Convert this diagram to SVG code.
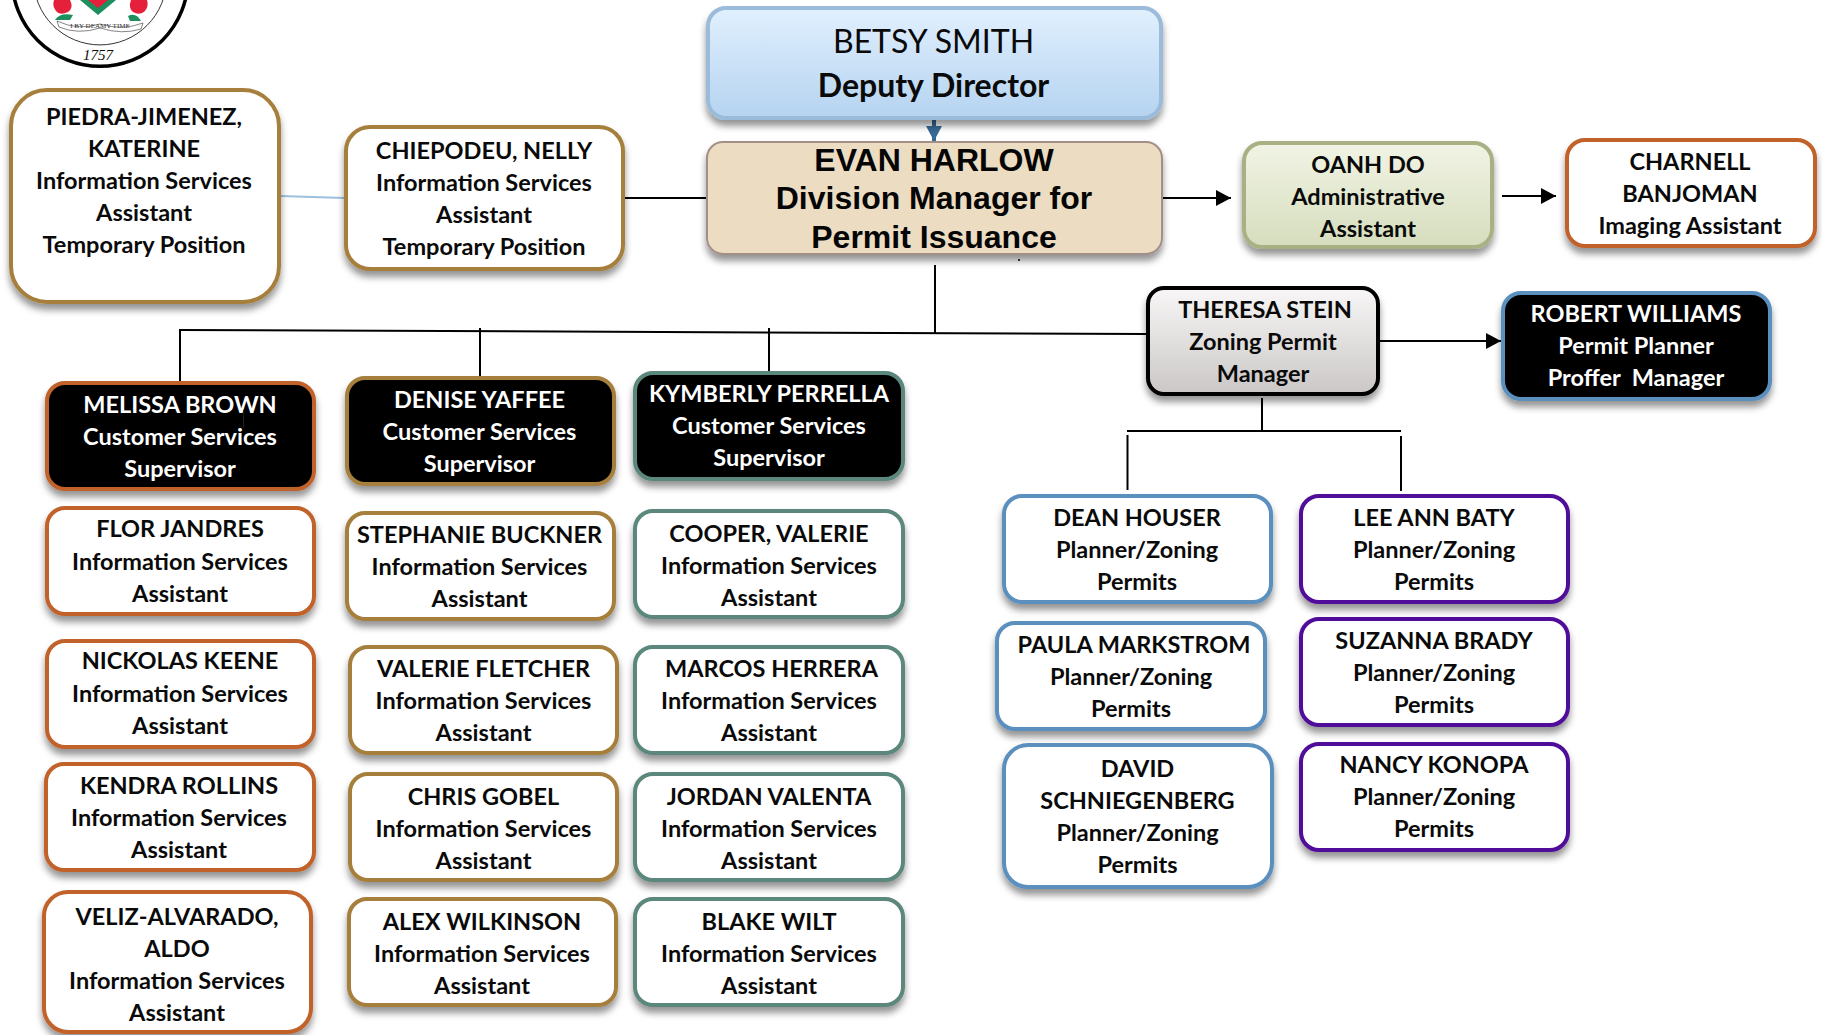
<svg xmlns="http://www.w3.org/2000/svg" width="1822" height="1035" viewBox="0 0 1822 1035">
<style>
text{font-family:Lato,"Liberation Sans",sans-serif;font-weight:700;font-size:23.5px;text-anchor:middle;fill:#0a0a0a}
text.w{fill:#fff}
.evan{font-family:"Liberation Sans",Arial,sans-serif;font-size:32px;fill:#050505}
.betsy{font-size:32px;font-weight:400}
.dep{font-size:32px}
.yr{font-family:"Liberation Serif",serif;font-style:italic;font-size:15px;font-weight:400}
.ban{font-family:"Liberation Serif",serif;font-size:7px;font-weight:400;fill:#333}
rect{stroke-width:4}
.box{filter:url(#sh);fill:#fff}
.or{stroke:#c0622b}.go{stroke:#a67f3d}.te{stroke:#5c877d}.bl{stroke:#5a8fbe}.pu{stroke:#4f0f99}
.k{fill:#050505}
.ln{stroke:#000;stroke-width:2;fill:none}
</style>
<defs>
<filter id="sh" x="-10%" y="-10%" width="120%" height="130%"><feDropShadow dx="0" dy="6" stdDeviation="3.5" flood-color="#000" flood-opacity=".42"/></filter>
<linearGradient id="gb" x1="0" y1="0" x2="0" y2="1"><stop offset="0" stop-color="#e1f0fe"/><stop offset="1" stop-color="#b5d3f0"/></linearGradient>
<linearGradient id="gg" x1="0" y1="0" x2="0" y2="1"><stop offset="0" stop-color="#f1f4e5"/><stop offset="1" stop-color="#d6ddbd"/></linearGradient>
<linearGradient id="gs" x1="0" y1="0" x2="0" y2="1"><stop offset="0" stop-color="#f8f6f6"/><stop offset="1" stop-color="#cbc7c7"/></linearGradient>
<marker id="a" markerUnits="userSpaceOnUse" markerWidth="16" markerHeight="16" refX="15" refY="8" orient="auto"><path d="M0 0L15 8L0 16Z" fill="#000"/></marker>
<marker id="ab" markerUnits="userSpaceOnUse" markerWidth="16" markerHeight="16" refX="15" refY="8" orient="auto"><path d="M0 0L15 8L0 16Z" fill="#376a94"/></marker>
</defs>

<g id="seal">
<circle cx="100" cy="-21.7" r="88" fill="#fff" stroke="#000" stroke-width="3.5"/>
<circle cx="100" cy="-21.7" r="66.6" fill="none" stroke="#333" stroke-width="1"/>
<path d="M54 0H70Q74 8 68 12Q60 16 56 11Q52 6 54 0Z" fill="#e5203a"/>
<path d="M131 0H147Q149 6 145 11Q140 16 133 12Q128 8 131 0Z" fill="#e5203a"/>
<path d="M80 0H116L98 15Z" fill="#1f8f5f"/>
<path d="M88 0H108L98 8Z" fill="#e5203a"/>
<path d="M55 20Q60 12 73 15L70 20Z" fill="#1f8f5f"/>
<path d="M128 16Q136 12 141 21L130 21Z" fill="#1f8f5f"/>
<path d="M57 21Q78 31 100 24Q122 31 143 23L141 29Q122 35 100 28Q78 35 59 27Z" fill="#fff" stroke="#666" stroke-width=".8"/>
<text class="ban" x="100" y="28">I BY DEAMY TIME</text>
<text class="yr" x="98" y="60">1757</text>
</g>

<g id="connectors">
<path d="M280 196L345 198" fill="none" stroke="#9cc0de" stroke-width="2"/>
<path class="ln" d="M622 198H707"/>
<path d="M934 119V141" stroke="#376a94" stroke-width="4" fill="none" marker-end="url(#ab)"/>
<path class="ln" d="M1162 198H1231" marker-end="url(#a)"/>
<path class="ln" d="M1502 196H1556" marker-end="url(#a)"/>
<path class="ln" d="M935 265V333"/>
<path class="ln" d="M180 330L1146 334"/>
<path class="ln" d="M180 329V382"/>
<path class="ln" d="M480 328V378"/>
<path class="ln" d="M769 328V372"/>
<path class="ln" d="M1380 341H1501" marker-end="url(#a)"/>
<path class="ln" d="M1262 398V431"/>
<path class="ln" d="M1127 431H1401"/>
<path class="ln" d="M1127.5 435V490"/>
<path class="ln" d="M1401 436V491"/>
</g>

<g id="n-betsy"><rect class="box" x="708" y="8" width="453" height="110" rx="18" fill="url(#gb)" style="fill:url(#gb)" stroke="#9abbd9"/><text class="betsy" x="933.5" y="53">BETSY SMITH</text><text class="dep" x="933.5" y="97">Deputy Director</text></g>
<g id="n-evan"><rect class="box" x="707" y="142" width="455" height="112" rx="16" style="fill:#ebdcc2;stroke:#a29088;stroke-width:2"/><text class="evan" x="934" y="171">EVAN HARLOW</text><text class="evan" x="934" y="209">Division Manager for</text><text class="evan" x="934" y="248">Permit Issuance</text></g>
<circle cx="1019" cy="260" r="1" fill="#000"/>
<g id="n-piedra"><rect class="box go" x="11" y="90" width="268" height="212" rx="36"/><text x="144" y="125">PIEDRA-JIMENEZ,</text><text x="144" y="157">KATERINE</text><text x="144" y="189">Information Services</text><text x="144" y="221">Assistant</text><text x="144" y="253">Temporary Position</text></g>
<g id="n-chiepodeu"><rect class="box go" x="346" y="127" width="277" height="142" rx="24"/><text x="484" y="159">CHIEPODEU, NELLY</text><text x="484" y="191">Information Services</text><text x="484" y="223">Assistant</text><text x="484" y="255">Temporary Position</text></g>
<g id="n-oanh"><rect class="box" x="1244" y="143" width="248" height="104" rx="18" style="fill:url(#gg)" stroke="#a8b184"/><text x="1368" y="173">OANH DO</text><text x="1368" y="205">Administrative</text><text x="1368" y="237">Assistant</text></g>
<g id="n-charnell"><rect class="box or" x="1567" y="140" width="248" height="106" rx="18"/><text x="1690" y="170">CHARNELL</text><text x="1690" y="202">BANJOMAN</text><text x="1690" y="234">Imaging Assistant</text></g>
<g id="n-theresa"><rect class="box" x="1148" y="288" width="230" height="106" rx="16" style="fill:url(#gs)" stroke="#000"/><text x="1265" y="318">THERESA STEIN</text><text x="1263" y="350">Zoning Permit</text><text x="1263" y="382">Manager</text></g>
<g id="n-robert"><rect class="box k" x="1503" y="293" width="267" height="106" rx="18" style="fill:#050505" stroke="#5a8fbe"/><text class="w" x="1636" y="322">ROBERT WILLIAMS</text><text class="w" x="1636" y="354">Permit Planner</text><text class="w" x="1636" y="386" xml:space="preserve">Proffer  Manager</text></g>

<g id="n-melissa"><rect class="box or" x="47" y="383" width="267" height="106" rx="18" style="fill:#050505"/><text class="w" x="180" y="413">MELISSA BROWN</text><text class="w" x="180" y="445">Customer Services</text><text class="w" x="180" y="477">Supervisor</text><path d="M243.5 410V427" stroke="#222" stroke-width="1"/></g>
<g id="n-flor"><rect class="box or" x="47" y="508" width="267" height="106" rx="18"/><text x="180" y="537">FLOR JANDRES</text><text x="180" y="570">Information Services</text><text x="180" y="602">Assistant</text></g>
<g id="n-nickolas"><rect class="box or" x="47" y="641" width="267" height="106" rx="18"/><text x="180" y="669">NICKOLAS KEENE</text><text x="180" y="702">Information Services</text><text x="180" y="734">Assistant</text></g>
<g id="n-kendra"><rect class="box or" x="46" y="764" width="268" height="106" rx="18"/><text x="179" y="794">KENDRA ROLLINS</text><text x="179" y="826">Information Services</text><text x="179" y="858">Assistant</text></g>
<g id="n-veliz"><rect class="box or" x="44" y="892" width="267" height="140" rx="24"/><text x="177" y="925">VELIZ-ALVARADO,</text><text x="177" y="957">ALDO</text><text x="177" y="989">Information Services</text><text x="177" y="1021">Assistant</text></g>

<g id="n-denise"><rect class="box go" x="347" y="378" width="267" height="106" rx="18" style="fill:#050505"/><text class="w" x="479.5" y="408">DENISE YAFFEE</text><text class="w" x="479.5" y="440">Customer Services</text><text class="w" x="479.5" y="472">Supervisor</text></g>
<g id="n-stephanie"><rect class="box go" x="347" y="513" width="267" height="106" rx="18"/><text x="479.5" y="543">STEPHANIE BUCKNER</text><text x="479.5" y="575">Information Services</text><text x="479.5" y="607">Assistant</text></g>
<g id="n-valerie"><rect class="box go" x="350" y="647" width="267" height="106" rx="18"/><text x="483.5" y="677">VALERIE FLETCHER</text><text x="483.5" y="709">Information Services</text><text x="483.5" y="741">Assistant</text></g>
<g id="n-chris"><rect class="box go" x="350" y="774" width="267" height="106" rx="18"/><text x="483.5" y="805">CHRIS GOBEL</text><text x="483.5" y="837">Information Services</text><text x="483.5" y="869">Assistant</text></g>
<g id="n-alex"><rect class="box go" x="349" y="899" width="267" height="106" rx="18"/><text x="482" y="930">ALEX WILKINSON</text><text x="482" y="962">Information Services</text><text x="482" y="994">Assistant</text></g>

<g id="n-kymberly"><rect class="box te" x="635" y="373" width="268" height="106" rx="18" style="fill:#050505"/><text class="w" x="769" y="402">KYMBERLY PERRELLA</text><text class="w" x="769" y="434">Customer Services</text><text class="w" x="769" y="466">Supervisor</text></g>
<g id="n-cooper"><rect class="box te" x="635" y="511" width="268" height="106" rx="18"/><text x="769" y="542">COOPER, VALERIE</text><text x="769" y="574">Information Services</text><text x="769" y="606">Assistant</text></g>
<g id="n-marcos"><rect class="box te" x="635" y="647" width="268" height="106" rx="18"/><text x="771.5" y="677">MARCOS HERRERA</text><text x="769" y="709">Information Services</text><text x="769" y="741">Assistant</text></g>
<g id="n-jordan"><rect class="box te" x="635" y="774" width="268" height="106" rx="18"/><text x="769" y="805">JORDAN VALENTA</text><text x="769" y="837">Information Services</text><text x="769" y="869">Assistant</text></g>
<g id="n-blake"><rect class="box te" x="635" y="899" width="268" height="106" rx="18"/><text x="769" y="930">BLAKE WILT</text><text x="769" y="962">Information Services</text><text x="769" y="994">Assistant</text></g>

<g id="n-dean"><rect class="box bl" x="1004" y="496" width="267" height="106" rx="18"/><text x="1137" y="526">DEAN HOUSER</text><text x="1137" y="558">Planner/Zoning</text><text x="1137" y="590">Permits</text></g>
<g id="n-paula"><rect class="box bl" x="997" y="623" width="268" height="106" rx="18"/><text x="1134" y="653">PAULA MARKSTROM</text><text x="1131" y="685">Planner/Zoning</text><text x="1131" y="717">Permits</text></g>
<g id="n-david"><rect class="box bl" x="1004" y="745" width="268" height="142" rx="24"/><text x="1137.5" y="777">DAVID</text><text x="1137.5" y="809">SCHNIEGENBERG</text><text x="1137.5" y="841">Planner/Zoning</text><text x="1137.5" y="873">Permits</text></g>
<g id="n-lee"><rect class="box pu" x="1301" y="496" width="267" height="106" rx="18"/><text x="1434" y="526">LEE ANN BATY</text><text x="1434" y="558">Planner/Zoning</text><text x="1434" y="590">Permits</text></g>
<g id="n-suzanna"><rect class="box pu" x="1301" y="619" width="267" height="106" rx="18"/><text x="1434" y="649">SUZANNA BRADY</text><text x="1434" y="681">Planner/Zoning</text><text x="1434" y="713">Permits</text></g>
<g id="n-nancy"><rect class="box pu" x="1301" y="744" width="267" height="106" rx="18"/><text x="1434" y="773">NANCY KONOPA</text><text x="1434" y="805">Planner/Zoning</text><text x="1434" y="837">Permits</text></g>
</svg>
